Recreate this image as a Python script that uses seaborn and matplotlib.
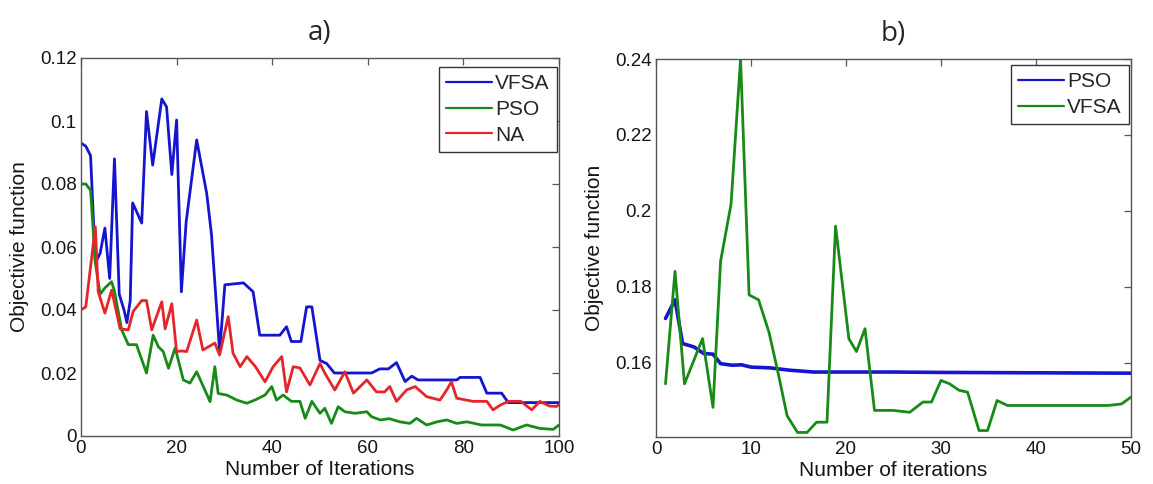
import matplotlib
matplotlib.use("Agg")
import matplotlib.pyplot as plt
import seaborn as sns
import pandas as pd

# ---------------- data: panel a ----------------
vfsa_a_x = [0, 1, 2, 3, 4, 5, 6, 7, 8, 9, 9.6, 10.3, 10.8, 12, 12.7, 13.7, 15, 16.9, 17.9, 19, 20, 21,
            22, 24.2, 26.3, 27.3, 29, 30.1, 34, 36, 37.4, 41.6, 43, 44, 46, 47.2, 48.3, 50, 51.4, 53,
            60.8, 62.5, 64.3, 66, 67.8, 69.2, 70.5, 78.6, 79.3, 83.5, 84.9, 88, 89.4, 100]
vfsa_a_y = [0.093, 0.092, 0.089, 0.055, 0.058, 0.066, 0.050, 0.088, 0.045, 0.040, 0.036, 0.043, 0.074,
            0.070, 0.0676, 0.103, 0.086, 0.107, 0.1045, 0.083, 0.1003, 0.0458, 0.068, 0.094, 0.077,
            0.064, 0.0268, 0.048, 0.0486, 0.0458, 0.032, 0.032, 0.0347, 0.030, 0.030, 0.041, 0.041,
            0.024, 0.023, 0.020, 0.020, 0.0213, 0.0213, 0.0233, 0.0173, 0.019, 0.0178, 0.0178,
            0.0186, 0.0186, 0.0136, 0.0136, 0.0106, 0.0106]

pso_a_x = [0, 1, 2, 3, 4, 5, 6.4, 7, 8.5, 9.9, 11.6, 13.7, 15.1, 16.2, 17.2, 18.3, 19.7, 21.4, 22.8,
           24.2, 25.5, 27, 28, 28.7, 30.5, 32.6, 34.7, 36.5, 38.5, 39.9, 40.9, 42.3, 44, 45.8, 46.9,
           48.3, 50, 51, 52.4, 53.8, 55.2, 57.3, 59.8, 60.8, 62.6, 64.5, 66.7, 68.8, 70.2, 72.3, 74.5,
           76.5, 78.6, 80.7, 83.8, 87.7, 90.4, 93.2, 96, 98.8, 100]
pso_a_y = [0.080, 0.080, 0.078, 0.055, 0.045, 0.047, 0.049, 0.046, 0.0337, 0.029, 0.029, 0.020, 0.032,
           0.0283, 0.0268, 0.0215, 0.028, 0.0178, 0.0168, 0.0204, 0.016, 0.0109, 0.022, 0.0135, 0.013,
           0.0114, 0.0104, 0.0115, 0.013, 0.0157, 0.0114, 0.013, 0.011, 0.011, 0.0056, 0.011, 0.0072,
           0.0088, 0.004, 0.0093, 0.0077, 0.0072, 0.0077, 0.0061, 0.0051, 0.0055, 0.0045, 0.004,
           0.0056, 0.0035, 0.0045, 0.0051, 0.004, 0.0045, 0.0035, 0.0035, 0.0019, 0.0035, 0.0024,
           0.0021, 0.0035]

na_a_x = [0, 1, 3, 3.6, 5, 6.4, 8.2, 9.9, 10.9, 12.7, 13.7, 14.8, 16.9, 17.6, 19, 20, 21, 22.1, 24.2,
          25.5, 28, 29, 30.8, 31.8, 33.3, 34.7, 36.5, 38.5, 40.2, 42, 43, 44.4, 45.8, 47.9, 50, 51,
          53.1, 55.2, 57, 59.8, 61.8, 63.5, 64.6, 66, 68.1, 69.9, 72.3, 75.1, 76.5, 77.5, 78.6, 82,
          84.9, 86.2, 87.7, 89.4, 92, 94.3, 96, 98, 99.5, 100]
na_a_y = [0.040, 0.041, 0.0664, 0.0458, 0.039, 0.0463, 0.034, 0.0337, 0.0395, 0.043, 0.043, 0.0337,
          0.0426, 0.034, 0.042, 0.0268, 0.027, 0.0268, 0.0368, 0.0273, 0.0295, 0.0257, 0.0379,
          0.0263, 0.022, 0.0252, 0.022, 0.0172, 0.022, 0.0252, 0.014, 0.022, 0.0216, 0.0162, 0.023,
          0.020, 0.0146, 0.0204, 0.0136, 0.0178, 0.014, 0.014, 0.0157, 0.011, 0.0146, 0.0157, 0.0125,
          0.0114, 0.0146, 0.0172, 0.012, 0.011, 0.011, 0.0083, 0.0098, 0.011, 0.011, 0.0083, 0.011,
          0.0095, 0.0094, 0.0100]

# ---------------- data: panel b ----------------
pso_b_x = [1, 2, 2.8, 4, 5, 6, 6.8, 8, 9, 10, 12, 14, 16.6, 20, 25, 30, 40, 50]
pso_b_y = [0.1717, 0.1766, 0.1651, 0.1642, 0.1625, 0.1623, 0.1598, 0.1594, 0.1595, 0.1589, 0.1587,
           0.1581, 0.1576, 0.1576, 0.1576, 0.1575, 0.1574, 0.1573]

vfsa_b_x = [1, 2, 3, 4.9, 6, 6.8, 7.9, 8.9, 9.8, 10.8, 11.9, 12.8, 13.8, 14.9, 15.9, 16.9, 18, 18.9,
            20.3, 21.1, 22, 23, 25, 26.7, 28.1, 29, 30, 30.9, 31.9, 32.8, 34, 34.9, 35.9, 37, 47.6,
            49, 50]
vfsa_b_y = [0.1545, 0.1841, 0.1545, 0.1664, 0.1483, 0.1868, 0.2018, 0.2400, 0.1779, 0.1766, 0.168,
            0.158, 0.1461, 0.1417, 0.1417, 0.1444, 0.1444, 0.196, 0.1664, 0.163, 0.169, 0.1475,
            0.1475, 0.147, 0.1497, 0.1497, 0.1554, 0.1545, 0.1528, 0.1523, 0.1422, 0.1422, 0.1501,
            0.1488, 0.1488, 0.1492, 0.151]

a_xticks = [0, 20, 40, 60, 80, 100]
a_yticks = [0, 0.02, 0.04, 0.06, 0.08, 0.1, 0.12]
a_yticklabels = ["0", "0.02", "0.04", "0.06", "0.08", "0.1", "0.12"]
b_xticks = [0, 10, 20, 30, 40, 50]
b_yticks = [0.16, 0.18, 0.2, 0.22, 0.24]
b_yticklabels = ["0.16", "0.18", "0.2", "0.22", "0.24"]

BLUE = "#1515d0"
GREEN = "#178a17"
RED = "#e5252a"
TXT = "#151515"

sns.set_style("white")
plt.rcParams["font.family"] = ["Liberation Sans", "DejaVu Sans"]

fig = plt.figure(figsize=(11.53, 4.84), dpi=100)
W, H = 1153, 484
axA = fig.add_axes([81 / W, (H - 436) / H, 478 / W, 378 / H])
axB = fig.add_axes([656 / W, (H - 437) / H, 475 / W, 378 / H])

def draw(ax, xs, ys, color, label, lw):
    df = pd.DataFrame({"x": xs, "y": ys})
    sns.lineplot(data=df, x="x", y="y", ax=ax, color=color, label=label,
                 linewidth=lw, estimator=None, sort=False)

draw(axA, vfsa_a_x, vfsa_a_y, BLUE, "VFSA", 2.0)
draw(axA, pso_a_x, pso_a_y, GREEN, "PSO", 2.0)
draw(axA, na_a_x, na_a_y, RED, "NA", 2.0)

draw(axB, pso_b_x, pso_b_y, BLUE, "PSO", 2.6)
draw(axB, vfsa_b_x, vfsa_b_y, GREEN, "VFSA", 2.0)

for ax in (axA, axB):
    for s in ax.spines.values():
        s.set_color("#555555")
        s.set_linewidth(1.0)
        s.set_visible(True)
    ax.tick_params(direction="in", length=5, width=0.9, color="#555555",
                   top=True, right=True, labelsize=13.5, labelcolor=TXT, pad=3)

axA.set_xlim(0, 100)
axA.set_ylim(0, 0.12)
axA.set_xticks(a_xticks)
axA.set_xticklabels([str(t) for t in a_xticks])
axA.set_yticks(a_yticks)
axA.set_yticklabels(a_yticklabels)
axA.set_xlabel("Number of Iterations", fontsize=15, color=TXT, labelpad=2)
axA.set_ylabel("Objectivie function", fontsize=15, color=TXT, labelpad=8)
axA.set_title("a)", fontsize=20, family=["Open Sans", "DejaVu Sans"], pad=13)

axB.set_xlim(0, 50)
axB.set_ylim(0.1405, 0.24)
axB.set_xticks(b_xticks)
axB.set_xticklabels([str(t) for t in b_xticks])
axB.set_yticks(b_yticks)
axB.set_yticklabels(b_yticklabels)
axB.set_xlabel("Number of iterations", fontsize=15, color=TXT, labelpad=2)
axB.set_ylabel("Objective function", fontsize=15, color=TXT, labelpad=8)
axB.set_title("b)", fontsize=20, family=["Open Sans", "DejaVu Sans"], pad=13)

legA = axA.legend(loc="upper right", bbox_to_anchor=(1 - 2 / 478, 1 - 9 / 378),
                  borderaxespad=0, fontsize=15, frameon=True, fancybox=False,
                  framealpha=1, edgecolor="#333333", handlelength=2.2, handletextpad=0.15,
                  labelspacing=0.32, borderpad=0.35)
legB = axB.legend(loc="upper right", bbox_to_anchor=(1 - 2 / 475, 1 - 6 / 378),
                  borderaxespad=0, fontsize=15, frameon=True, fancybox=False,
                  framealpha=1, edgecolor="#333333", handlelength=2.2, handletextpad=0.15,
                  labelspacing=0.32, borderpad=0.35)
for leg in (legA, legB):
    leg.get_frame().set_linewidth(1.0)
    for line in leg.get_lines():
        line.set_linewidth(1.6)

fig.savefig("out.png", dpi=100)
